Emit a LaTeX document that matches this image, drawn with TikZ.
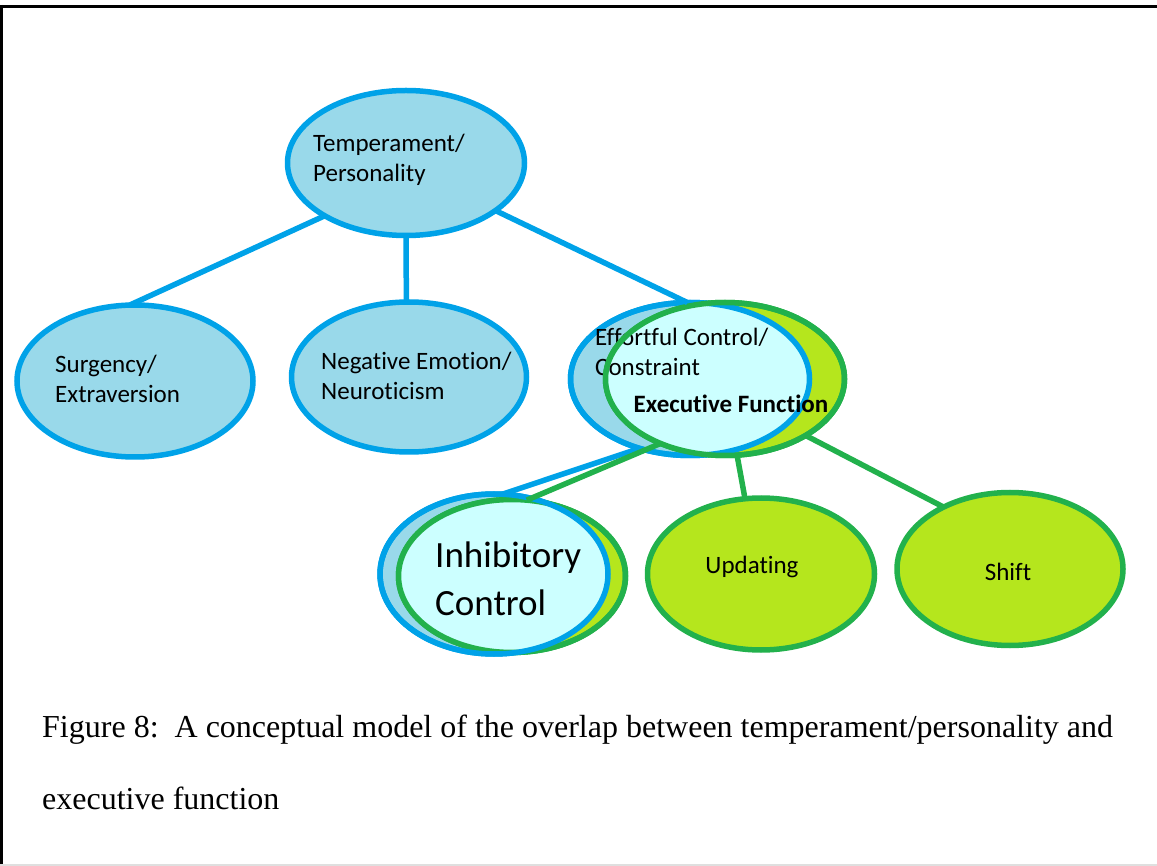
\documentclass[tikz,border=0pt]{standalone}
\usepackage{fontspec}
\setmainfont{Liberation Serif}
\newfontfamily\calibri[RawFeature={-liga;-calt;-dlig}]{Carlito}
\usetikzlibrary{shapes.geometric}
\definecolor{skyfill}{HTML}{99D9EA}
\definecolor{skyline}{HTML}{00A2E8}
\definecolor{limefill}{HTML}{B5E61D}
\definecolor{leafline}{HTML}{22B14C}
\definecolor{icefill}{HTML}{CCFFFF}

\begin{document}
\begin{tikzpicture}[x=1pt,y=-1pt]

	\tikzstyle{ellblue}=[ellipse, draw=skyline, fill=skyfill, line width=5.5, inner sep=0, outer sep=0]
	\tikzstyle{ellgreen}=[ellipse, draw=leafline, fill=limefill, line width=5.5, inner sep=0, outer sep=0]
	\tikzstyle{lineblue}=[draw=skyline, line width=5.5]
	\tikzstyle{linegreen}=[draw=leafline, line width=5.5]
	\tikzstyle{label1}=[text=black, font=\calibri\fontsize{25}{30}\selectfont, align=left, anchor=west, inner sep=0]
	\tikzstyle{label2}=[text=black, font=\calibri\fontsize{25}{30}\selectfont, inner sep=0]
	\tikzstyle{label3}=[text=black, font=\calibri\bfseries\fontsize{25}{30}\selectfont, inner sep=0]
	\tikzstyle{label4}=[text=black, font=\calibri\fontsize{37}{48}\selectfont, align=left, anchor=west, inner sep=0]

	\useasboundingbox (0,0) rectangle (1157,866);
	\draw [line width=3] (0,6.5) -- (1157,6.5);
	\draw [line width=3] (1.5,5) -- (1.5,866);
	\draw [gray!25, line width=2] (0,865) -- (1157,865);

	% temperament side
	\node [ellblue, minimum width=237, minimum height=145] (temp) at (406,163) {};
	\node [ellblue, minimum width=236, minimum height=152] (surg) at (135,381) {};
	\node [ellblue, minimum width=235, minimum height=150] (neg) at (409,377) {};

	% effortful control / executive function overlap
	\node [ellblue, minimum width=239, minimum height=153] (effort) at (690,379) {};
	\node [ellgreen, minimum width=239, minimum height=153] (execf) at (725,379) {};
	\begin{scope}
		\clip (effort.center) ellipse [x radius=119.5pt, y radius=76.5pt];
		\fill [icefill] (execf.center) ellipse [x radius=119.5pt, y radius=76.5pt];
	\end{scope}
	\draw [lineblue] (effort.center) ellipse [x radius=119.5pt, y radius=76.5pt];
	\node [label1] (teffort) at (595,352) {Effortful Control/\\Constraint};
	\draw [linegreen] (execf.center) ellipse [x radius=119.5pt, y radius=76.5pt];

	% inhibitory control overlap
	\node [ellblue, minimum width=228, minimum height=160] (inhb) at (494,574) {};
	\node [ellgreen, minimum width=227, minimum height=153] (inhg) at (512,576) {};
	\begin{scope}
		\clip (inhb.center) ellipse [x radius=114pt, y radius=80pt];
		\fill [icefill] (inhg.center) ellipse [x radius=113.5pt, y radius=76.5pt];
	\end{scope}
	\draw [linegreen] (inhg.center) ellipse [x radius=113.5pt, y radius=76.5pt];
	\draw [lineblue] (inhb.center) ellipse [x radius=114pt, y radius=80pt];

	\node [ellgreen, minimum width=227, minimum height=152] (upd) at (761,574) {};
	\node [ellgreen, minimum width=226, minimum height=153] (shift) at (1010,569) {};

	\draw [lineblue] (temp.213) -- (surg.94);
	\draw [lineblue] (temp.270) -- (neg.92);
	\draw [lineblue] (temp.332) -- (effort.92);
	\draw [lineblue] (effort.234) -- (inhb.84);
	\draw [linegreen] (execf.225) -- (inhg.79);
	\draw [linegreen] (execf.279) -- (upd.102);
	\draw [linegreen] (execf.325) -- (shift.137);

	\node [label1] (ttemp) at (313,160) {Temperament/\\Personality};
	\node [label1] (tsurg) at (55,379) {Surgency/\\Extraversion};
	\node [label1] (tneg) at (321,376) {Negative Emotion/\\Neuroticism};
	\node [label3] (texec) at (731,404) {Executive Function};
	\node [label4] (tinh) at (435,579) {Inhibitory\\Control};
	\node [label2] (tupd) at (752,567) {Updating};
	\node [label2] (tshift) at (1008,572) {Shift};

	\node [font=\fontsize{32}{72}\selectfont, align=left, anchor=west, inner sep=0] (caption) at (42,762)
		{Figure 8:\ \ A conceptual model of the overlap between temperament/personality and\\executive function};

\end{tikzpicture}
\end{document}
